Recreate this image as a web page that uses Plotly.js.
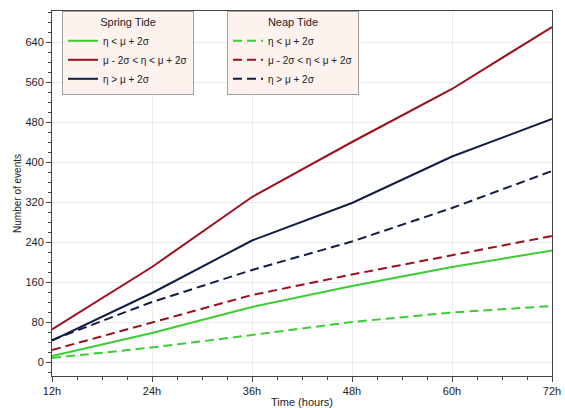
<!DOCTYPE html>
<html>
<head>
<meta charset="utf-8">
<script src="https://cdn.plot.ly/plotly-3.0.1.min.js"></script>
<style>html,body{margin:0;padding:0;background:#fff;}#chart{width:565px;height:408px;}</style>
</head>
<body>
<div id="chart"></div>
<script>
const hours = [12, 24, 36, 48, 60, 72];
const tickLabels = ['12h', '24h', '36h', '48h', '60h', '72h'];
const seriesNames = ['η < μ + 2σ', 'μ - 2σ < η < μ + 2σ', 'η > μ + 2σ'];

const springLow = [12, 58, 110, 152, 190, 223];
const springMid = [65, 190, 330, 440, 546, 670];
const springHigh = [43, 138, 243, 318, 411, 486];

const neapLow = [8, 29, 54, 80, 99, 112];
const neapMid = [24, 79, 134, 175, 213, 252];
const neapHigh = [44, 120, 184, 241, 308, 382];

const colors = ['#3ccc33', '#9b0f1c', '#111d45'];

function tr(y, name, color, dash, legend) {
  return {
    x: hours, y: y, name: name, type: 'scatter', mode: 'lines',
    line: {color: color, width: 2, dash: dash},
    legend: legend
  };
}

const data = [
  tr(springLow, seriesNames[0], colors[0], 'solid', 'legend'),
  tr(springMid, seriesNames[1], colors[1], 'solid', 'legend'),
  tr(springHigh, seriesNames[2], colors[2], 'solid', 'legend'),
  tr(neapLow, seriesNames[0], colors[0], '9px,5px', 'legend2'),
  tr(neapMid, seriesNames[1], colors[1], '9px,5px', 'legend2'),
  tr(neapHigh, seriesNames[2], colors[2], '9px,5px', 'legend2')
];

const legendStyle = {
  bgcolor: '#fdf2ee', bordercolor: '#a0a0a0', borderwidth: 1,
  font: {size: 10, color: '#222'},
  yanchor: 'top', y: 1, xanchor: 'left',
  itemclick: false
};

const layout = {
  width: 565, height: 408,
  margin: {l: 52, r: 13, t: 11, b: 32},
  paper_bgcolor: '#fff', plot_bgcolor: '#fff',
  font: {family: 'Liberation Sans, Arial, sans-serif', size: 11, color: '#222'},
  xaxis: {
    range: [12, 72], tickvals: hours, ticktext: tickLabels,
    showgrid: true, gridcolor: '#ebebeb', zeroline: false,
    showline: true, linecolor: '#444', linewidth: 1, mirror: true,
    ticks: 'outside', ticklen: 5, tickcolor: '#444',
    minor: {dtick: 3, ticks: 'outside', ticklen: 3, tickcolor: '#444', showgrid: false},
    title: {text: 'Time (hours)', font: {size: 11}, standoff: 3},
    tickfont: {size: 11}
  },
  yaxis: {
    range: [-28, 702], dtick: 80, tick0: 0,
    showgrid: true, gridcolor: '#ebebeb', zeroline: false,
    showline: true, linecolor: '#444', linewidth: 1, mirror: true,
    ticks: 'outside', ticklen: 5, tickcolor: '#444',
    minor: {dtick: 20, ticks: 'outside', ticklen: 3, tickcolor: '#444', showgrid: false},
    title: {text: 'Number of events', font: {size: 10}, standoff: 1},
    tickfont: {size: 11}
  },
  legend: Object.assign({}, legendStyle, {x: 0.02, title: {text: 'Spring Tide', side: 'top center', font: {size: 11}}}),
  legend2: Object.assign({}, legendStyle, {x: 0.35, title: {text: 'Neap Tide', side: 'top center', font: {size: 11}}}),
  showlegend: true
};

Plotly.newPlot('chart', data, layout, {displayModeBar: false, staticPlot: true});
</script>
</body>
</html>
